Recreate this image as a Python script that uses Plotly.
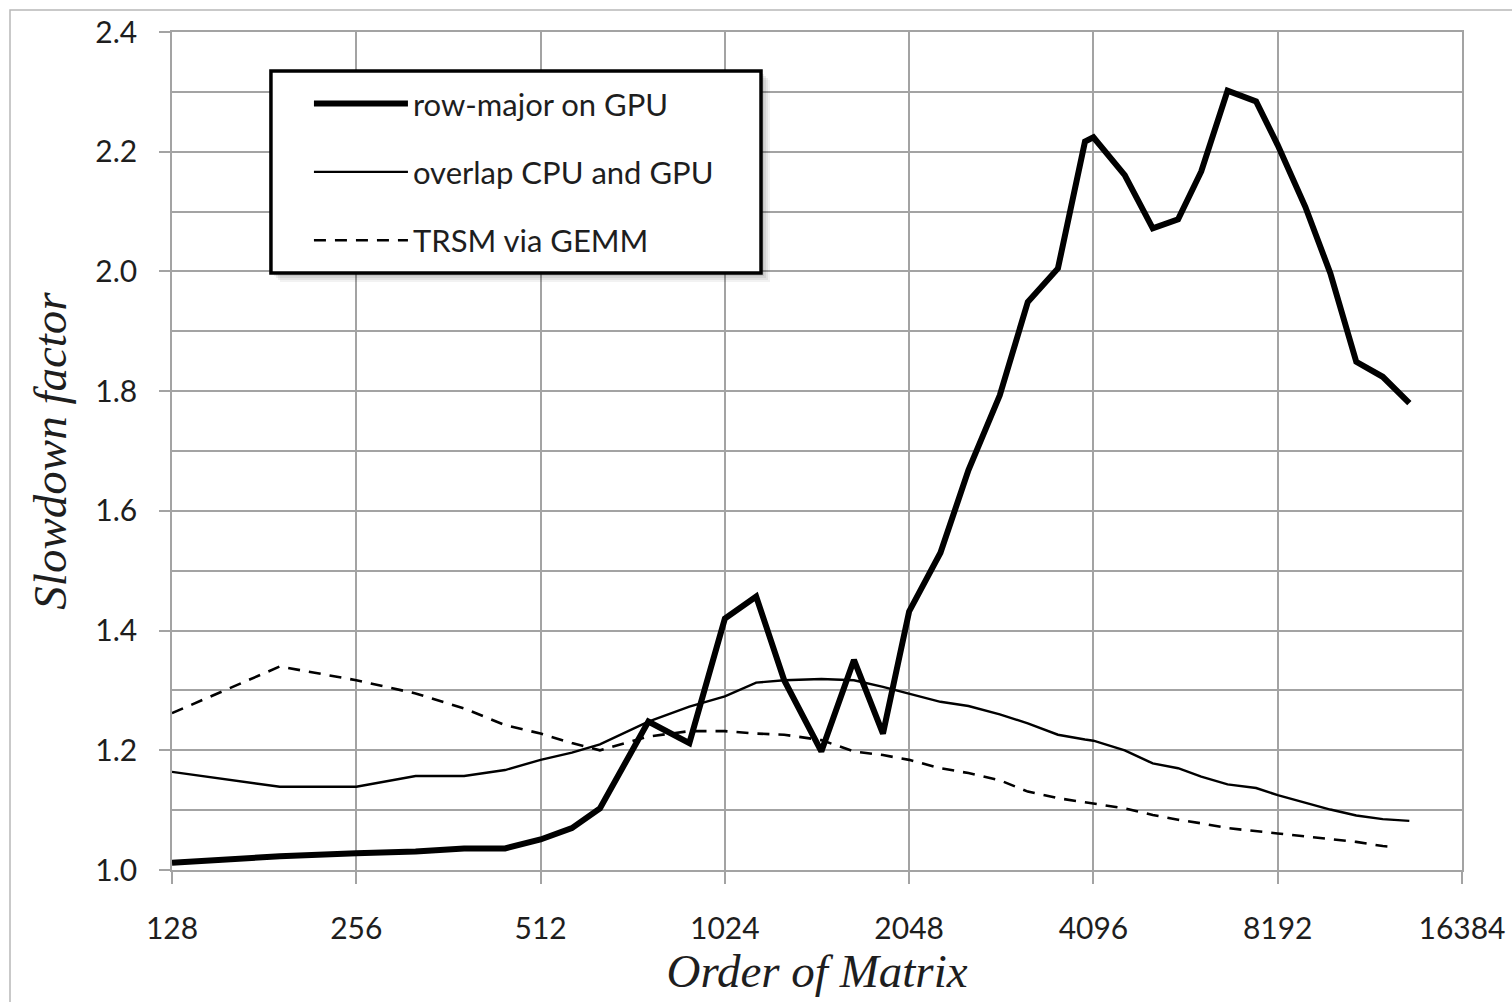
import plotly.graph_objects as go

# Matrix orders (log2 x-axis) and measured slowdown factors
order_main = [128, 192, 256, 320, 384, 448, 512, 576, 640, 768, 896, 1024, 1152, 1280,
              1472, 1664, 1856, 2048, 2304, 2560, 2880, 3200, 3584, 3968, 4096, 4608,
              5120, 5632, 6144, 6784, 7552, 8192, 9088, 9984, 11008, 12160, 13440]
row_major_gpu = [1.012, 1.023, 1.028, 1.031, 1.036, 1.036, 1.051, 1.070, 1.103, 1.248,
                 1.212, 1.420, 1.457, 1.317, 1.198, 1.351, 1.228, 1.432, 1.530, 1.668,
                 1.793, 1.949, 2.005, 2.217, 2.224, 2.161, 2.072, 2.087, 2.167, 2.302,
                 2.284, 2.211, 2.108, 1.997, 1.849, 1.824, 1.780]
overlap_cpu_gpu = [1.164, 1.139, 1.139, 1.157, 1.157, 1.167, 1.184, 1.196, 1.210, 1.248,
                   1.273, 1.290, 1.313, 1.317, 1.319, 1.317, 1.306, 1.295, 1.281, 1.274,
                   1.260, 1.245, 1.226, 1.218, 1.216, 1.200, 1.178, 1.170, 1.156, 1.143,
                   1.137, 1.125, 1.112, 1.101, 1.091, 1.085, 1.082]

order_trsm = [128, 192, 256, 320, 384, 448, 512, 576, 640, 768, 896, 1024, 1152, 1280,
              1472, 1664, 1856, 2048, 2304, 2560, 2880, 3200, 3584, 4096, 4608, 5120,
              5632, 6144, 6784, 8192, 9088, 9984, 11008, 12160, 12800]
trsm_via_gemm = [1.262, 1.340, 1.317, 1.295, 1.270, 1.242, 1.228, 1.212, 1.200, 1.223,
                 1.232, 1.232, 1.228, 1.226, 1.217, 1.198, 1.192, 1.184, 1.170, 1.162,
                 1.150, 1.131, 1.120, 1.111, 1.103, 1.092, 1.084, 1.078, 1.070, 1.061,
                 1.056, 1.052, 1.047, 1.040, 1.038]

x_ticks = [128, 256, 512, 1024, 2048, 4096, 8192, 16384]
x_tick_labels = [str(v) for v in x_ticks]

GRID = "#a3a3a3"
TEXT = "#1e1e1e"
TICK_FONT = dict(family="Lato, 'Open Sans', sans-serif", size=30, color=TEXT)
TITLE_FONT = dict(family="'Liberation Serif', 'DejaVu Serif', serif", size=47, color=TEXT)

fig = go.Figure()
fig.add_trace(go.Scatter(x=order_main, y=row_major_gpu, mode="lines",
                         name="row-major on GPU", legendgroup="a",
                         line=dict(color="black", width=6)))
fig.add_trace(go.Scatter(x=order_main, y=overlap_cpu_gpu, mode="lines",
                         name="overlap CPU and GPU", legendgroup="b",
                         line=dict(color="black", width=2.4)))
fig.add_trace(go.Scatter(x=order_trsm, y=trsm_via_gemm, mode="lines",
                         name="TRSM via GEMM", legendgroup="c",
                         line=dict(color="black", width=2.6, dash="12px,9px")))

# legend frame: soft shadow, then white box with black border
bx0, bx1, by0, by1 = 0.0767, 0.4566, 0.7124, 0.9535
px_w, px_h = 1290.0, 838.0
for k, a in [(9, 0.05), (7, 0.06), (5, 0.07), (3, 0.08)]:
    fig.add_shape(type="rect", xref="paper", yref="paper", layer="above",
                  x0=bx0 + k / px_w, x1=bx1 + k / px_w,
                  y0=by0 - k / px_h, y1=by1 - k / px_h,
                  fillcolor=f"rgba(0,0,0,{a})", line=dict(width=0))
fig.add_shape(type="rect", xref="paper", yref="paper", layer="above",
              x0=bx0, x1=bx1, y0=by0, y1=by1,
              fillcolor="white", line=dict(color="black", width=3.5))

# outer chart frame (only its left and top edges fall inside the page)
fig.add_shape(type="rect", xref="paper", yref="paper", layer="below",
              x0=(10 - 172) / px_w, x1=(1700 - 172) / px_w,
              y0=(870 - 1200) / px_h, y1=(870 - 10) / px_h,
              line=dict(color="#b8b8b8", width=1.5), fillcolor="rgba(0,0,0,0)")

fig.update_layout(
    width=1512, height=1002,
    margin=dict(l=172, r=50, t=32, b=132),
    paper_bgcolor="white", plot_bgcolor="white",
    showlegend=True,
    legend=dict(x=bx0 + 38 / px_w, y=by1 - 6 / px_h, xanchor="left", yanchor="top",
                bgcolor="rgba(0,0,0,0)", borderwidth=0,
                font=dict(family="Lato, 'Open Sans', sans-serif", size=31, color=TEXT),
                itemwidth=94, tracegroupgap=25, traceorder="grouped"),
    xaxis=dict(type="log", range=[2.10721, 4.21442], automargin=False,
               tickmode="array", tickvals=x_ticks, ticktext=x_tick_labels,
               showgrid=True, gridcolor=GRID, gridwidth=1.5,
               showline=True, linecolor=GRID, linewidth=1.5, mirror=True,
               ticks="outside", ticklen=12, tickwidth=1.5, tickcolor=GRID,
               tickfont=TICK_FONT, ticklabelstandoff=19, zeroline=False,
               title=dict(text="<i>Order of Matrix</i>", font=TITLE_FONT, standoff=0)),
    yaxis=dict(range=[1.0, 2.4], tickmode="linear", tick0=1.0, dtick=0.2,
               tickformat=".1f", automargin=False,
               showgrid=True, gridcolor=GRID, gridwidth=1.5,
               minor=dict(dtick=0.1, tick0=1.0, showgrid=True, gridcolor=GRID,
                          gridwidth=1.5, ticks=""),
               showline=True, linecolor=GRID, linewidth=1.5, mirror=True,
               ticks="outside", ticklen=11, tickwidth=1.5, tickcolor=GRID,
               tickfont=TICK_FONT, ticklabelstandoff=16, zeroline=False,
               title=dict(text="<i>Slowdown factor</i>", font=TITLE_FONT, standoff=14)),
)

fig.write_html("out.html")
